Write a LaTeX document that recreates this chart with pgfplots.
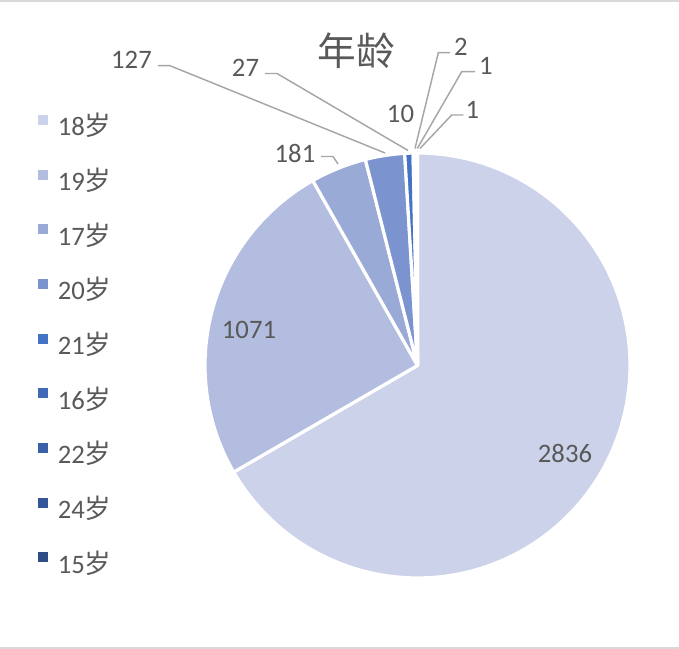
\documentclass[border=0pt]{standalone}
\usepackage{fontspec}
\setmainfont{Carlito}
\newfontfamily\cjk{Noto Sans CJK SC}
\usepackage{pgfplots}
\usepackage{pgfplotstable}
\pgfplotsset{compat=1.18}

% slice colours, light to dark
\definecolor{slice0}{HTML}{CCD2EA}
\definecolor{slice1}{HTML}{B3BDE0}
\definecolor{slice2}{HTML}{99AAD7}
\definecolor{slice3}{HTML}{7B93CF}
\definecolor{slice4}{HTML}{4472C4}
\definecolor{slice5}{HTML}{406AB7}
\definecolor{slice6}{HTML}{3B61A9}
\definecolor{slice7}{HTML}{355699}
\definecolor{slice8}{HTML}{2F4C87}
\definecolor{labelgrey}{HTML}{595959}
\definecolor{leadergrey}{HTML}{A6A6A6}
\definecolor{framegrey}{HTML}{D9D9D9}

\pgfplotstableread{
age value
18 2836
19 1071
17 181
20 127
21 27
16 10
22 2
24 1
15 1
}\agetable

\begin{document}
\begin{tikzpicture}
% running totals of the counts, one pair of bounds per slice
\gdef\runsum{0}
\foreach \i in {0,...,8}{%
  \pgfplotstablegetelem{\i}{age}\of\agetable
  \expandafter\xdef\csname age\i\endcsname{\pgfplotsretval}%
  \pgfplotstablegetelem{\i}{value}\of\agetable
  \expandafter\xdef\csname lo\i\endcsname{\runsum}%
  \pgfmathparse{\runsum+\pgfplotsretval}%
  \xdef\runsum{\pgfmathresult}%
  \expandafter\xdef\csname hi\i\endcsname{\runsum}%
}
\xdef\total{\runsum}
\def\cx{417.5}\def\cy{-365.5}\def\rr{212.5}

\begin{axis}[
  width=509.25pt, height=486.75pt, scale only axis,
  xmin=0, xmax=679, ymin=-649, ymax=0,
  hide axis, clip=false,
  wedge/.style={draw=white, line width=2.4pt, line join=round, samples=120},
  legend style={at={(axis cs:37.5,-114.7)}, anchor=north west, draw=none, fill=none,
    inner sep=0pt, row sep=23.4pt, font=\fontsize{20}{24}\selectfont,
    text=labelgrey, nodes={inner sep=0pt, text height=13pt, text depth=2pt}},
  legend cell align=left,
  legend image code/.code={\fill[#1, draw=none] (0pt,2.6pt) rectangle (7.5pt,10.1pt);
    \path (13.8pt,0pt);},
]
\fill[framegrey] (axis cs:0,0) rectangle (axis cs:679,-1.6);
\fill[framegrey] (axis cs:0,-646.8) rectangle (axis cs:679,-649);

\pgfplotsinvokeforeach{0,...,8}{
  \addplot[wedge, fill=slice#1,
    domain={90-360*(\csname hi#1\endcsname/\total)}:{90-360*(\csname lo#1\endcsname/\total)}]
    ({\cx+\rr*cos(x)},{\cy+\rr*sin(x)}) -- (axis cs:\cx,\cy) -- cycle;
  \addlegendentry{\csname age#1\endcsname{\cjk 岁}}
}

% leader lines
\begin{scope}[leadergrey, line width=1.1pt]
\draw (axis cs:321,-156.5) -- (axis cs:333,-156.5) -- (axis cs:338,-164);
\draw (axis cs:158,-65.7) -- (axis cs:170,-65.7) -- (axis cs:385,-153);
\draw (axis cs:265,-73.5) -- (axis cs:277,-73.5) -- (axis cs:408,-150.5);
\draw (axis cs:450,-52.7) -- (axis cs:438.3,-52.7) -- (axis cs:415,-148.5);
\draw (axis cs:475,-71.7) -- (axis cs:461.7,-71.7) -- (axis cs:417.3,-148.5);
\draw (axis cs:463.3,-115) -- (axis cs:451.7,-115) -- (axis cs:420,-148.5);
\end{scope}

% value labels
\begin{scope}[every node/.style={inner sep=0pt, text=labelgrey, font=\fontsize{20}{24}\selectfont}]
\node at (axis cs:565,-453) {2836};
\node at (axis cs:249,-330) {1071};
\node at (axis cs:295,-153) {181};
\node at (axis cs:131.5,-60) {127};
\node at (axis cs:245.5,-68) {27};
\node at (axis cs:400.5,-113.5) {10};
\node at (axis cs:461,-46.5) {2};
\node at (axis cs:486,-66) {1};
\node at (axis cs:472.5,-110) {1};
\end{scope}

\node[inner sep=0pt, text=labelgrey, font=\cjk\fontsize{29}{34}\selectfont]
  at (axis cs:356.5,-51) {年龄};
\path (axis cs:0,0) rectangle (axis cs:679,-649);
\end{axis}
\end{tikzpicture}
\end{document}
